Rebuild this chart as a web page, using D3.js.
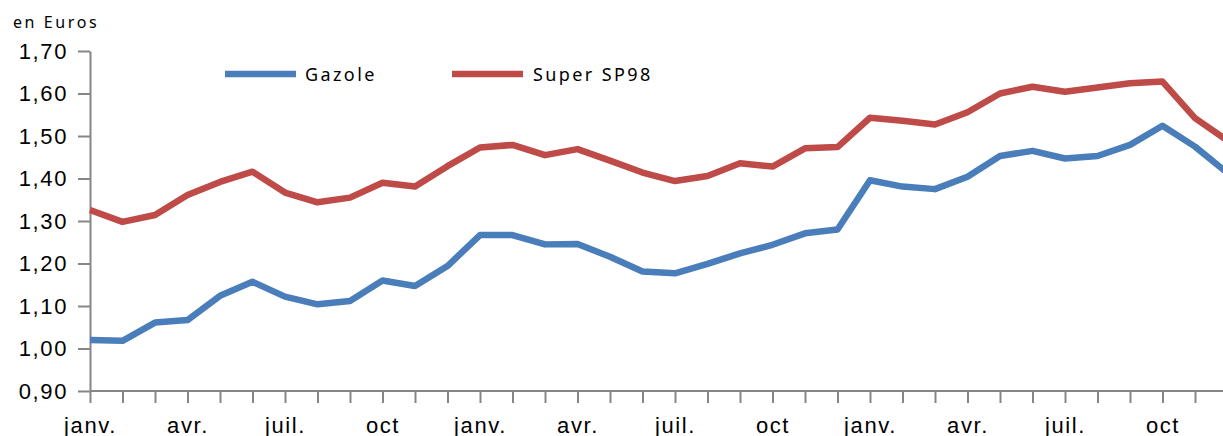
<!DOCTYPE html>
<html>
<head>
<meta charset="utf-8">
<script src="https://cdn.jsdelivr.net/npm/d3@7"></script>
<style>
  body { margin: 0; background: #fff; overflow: hidden; }
  svg { display: block; font-family: "Noto Sans", sans-serif; }
  .axis path, .axis line { stroke: #868686; stroke-width: 2; }
  .axis text { fill: #000; font-size: 22px; letter-spacing: 1.6px; }
</style>
</head>
<body>
<div id="chart"></div>
<script>
// one value per month, three years, janv. -> déc.
const monthNames = ['janv.', 'févr.', 'mars', 'avr.', 'mai', 'juin',
  'juil.', 'août', 'sept.', 'oct', 'nov.', 'déc.'];
const months = d3.range(36).map(i => monthNames[i % 12]);

const gazole = [
  1.020, 1.018, 1.061, 1.067, 1.124, 1.157, 1.122, 1.104, 1.112, 1.160, 1.147, 1.194,
  1.267, 1.267, 1.245, 1.246, 1.216, 1.181, 1.177, 1.199, 1.224, 1.244, 1.271, 1.280,
  1.396, 1.381, 1.375, 1.404, 1.453, 1.465, 1.447, 1.453, 1.479, 1.524, 1.475, 1.413
];

const superSP98 = [
  1.326, 1.298, 1.314, 1.361, 1.392, 1.416, 1.367, 1.344, 1.355, 1.390, 1.381, 1.429,
  1.473, 1.479, 1.455, 1.469, 1.442, 1.414, 1.394, 1.406, 1.436, 1.428, 1.471, 1.474,
  1.543, 1.536, 1.527, 1.556, 1.600, 1.616, 1.604, 1.614, 1.624, 1.628, 1.542, 1.489
];

const yTicks = [0.9, 1.0, 1.1, 1.2, 1.3, 1.4, 1.5, 1.6, 1.7];

const series = [
  { name: 'Gazole', values: gazole, color: '#4a7ebb' },
  { name: 'Super SP98', values: superSP98, color: '#be4b48' }
];

const width = 1223;
const height = 436;

const svg = d3.select('#chart')
  .append('svg')
  .attr('width', width)
  .attr('height', height);

const x = d3.scalePoint()
  .domain(d3.range(months.length))
  .range([90, 1227.5]);

const y = d3.scaleLinear()
  .domain([0.9, 1.7])
  .range([391, 51]);

const comma = d3.formatLocale({ decimal: ',', thousands: ' ', grouping: [3], currency: ['', ' €'] }).format(',.2f');

// y axis
svg.append('g')
  .attr('class', 'axis')
  .attr('transform', 'translate(90,0)')
  .call(d3.axisLeft(y).tickValues(yTicks).tickFormat(comma).tickSize(12).tickPadding(12).tickSizeOuter(0))
  .call(g => g.selectAll('text').attr('dx', '2px'));

// x axis
svg.append('g')
  .attr('class', 'axis')
  .attr('transform', 'translate(0,391)')
  .call(d3.axisBottom(x)
    .tickFormat(i => (i % 3 === 0 ? months[i] : ''))
    .tickSize(12)
    .tickPadding(14)
    .tickSizeOuter(0))
  .call(g => g.select('.domain').attr('d', 'M90,0H1240'));

svg.append('text')
  .attr('x', 13)
  .attr('y', 28)
  .attr('font-size', 16)
  .attr('letter-spacing', '2.6px')
  .text('en Euros');

const line = d3.line()
  .x((d, i) => x(i))
  .y(d => y(d));

svg.append('g')
  .selectAll('path')
  .data(series)
  .join('path')
  .attr('d', d => line(d.values))
  .attr('fill', 'none')
  .attr('stroke', d => d.color)
  .attr('stroke-width', 6.5)
  .attr('stroke-linejoin', 'round');

// legend
const legendPos = [225, 452];
const legend = svg.append('g')
  .selectAll('g')
  .data(series)
  .join('g')
  .attr('transform', (d, i) => `translate(${legendPos[i]},74)`);

legend.append('line')
  .attr('x1', 0)
  .attr('x2', 71)
  .attr('stroke', d => d.color)
  .attr('stroke-width', 6.5);

legend.append('text')
  .attr('x', (d, i) => (i === 0 ? 80 : 81))
  .attr('y', 7)
  .attr('font-size', 18)
  .attr('letter-spacing', '2.4px')
  .text(d => d.name);
</script>
</body>
</html>
